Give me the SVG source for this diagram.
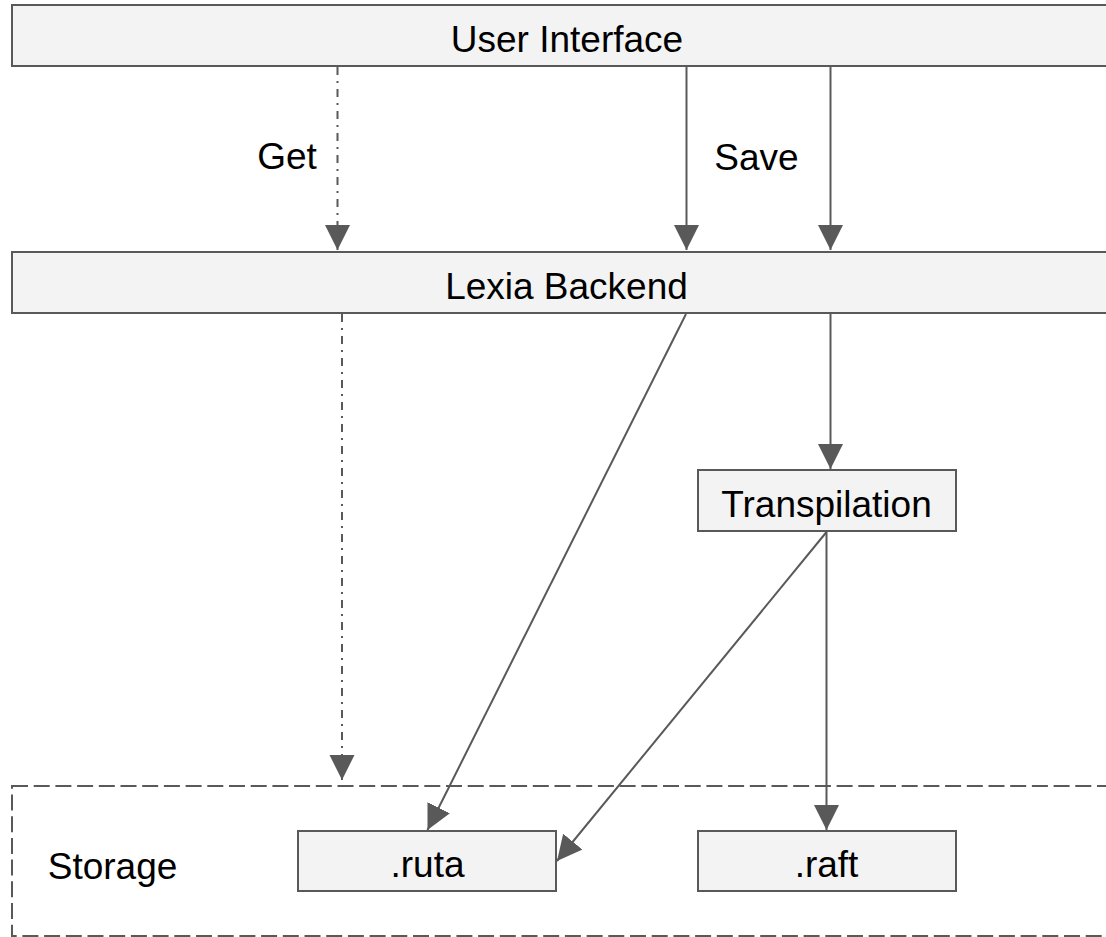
<svg xmlns="http://www.w3.org/2000/svg" width="1106" height="937" viewBox="0 0 1106 937">
  <defs>
    <!-- filled triangular arrowhead, tip sits on the line end -->
    <marker id="arrow" markerUnits="userSpaceOnUse" markerWidth="26" markerHeight="26" refX="25" refY="12.5" orient="auto">
      <path d="M0,0 L25,12.5 L0,25 Z" fill="#595959"/>
    </marker>
    <style>
      .box { fill: #f3f3f3; stroke: #595959; stroke-width: 2; }
      .group { fill: none; stroke: #595959; stroke-width: 2; stroke-dasharray: 16 5.7; }
      .label { font-family: "Liberation Sans", Arial, sans-serif; font-size: 37px; fill: #000000; text-anchor: middle; }
      .edge { fill: none; stroke: #595959; stroke-width: 2; marker-end: url(#arrow); }
      .dashdot { stroke-dasharray: 8 6 2 6; }
    </style>
  </defs>

  <rect width="1106" height="937" fill="#ffffff"/>

  <!-- storage container -->
  <g id="storage">
    <rect class="group" x="12" y="786" width="1110" height="150"/>
    <text class="label" x="112.5" y="879">Storage</text>
  </g>

  <g id="user-interface">
    <rect class="box" x="12" y="5" width="1110" height="61"/>
    <text class="label" x="567" y="52">User Interface</text>
  </g>

  <g id="lexia-backend">
    <rect class="box" x="12" y="252" width="1110" height="61"/>
    <text class="label" x="566.5" y="298.5">Lexia Backend</text>
  </g>

  <g id="transpilation">
    <rect class="box" x="698" y="470" width="258" height="61"/>
    <text class="label" x="826.5" y="516.5">Transpilation</text>
  </g>

  <g id="ruta">
    <rect class="box" x="298" y="831" width="258" height="60"/>
    <text class="label" x="427.5" y="877">.ruta</text>
  </g>

  <g id="raft">
    <rect class="box" x="698" y="831" width="258" height="60"/>
    <text class="label" x="826.5" y="877">.raft</text>
  </g>

  <g id="connectors">
    <!-- Get: UI -> backend, backend -> storage -->
    <line class="edge dashdot" x1="337.5" y1="67" x2="337.5" y2="250"/>
    <line class="edge dashdot" x1="342" y1="314" x2="342" y2="780"/>
    <!-- Save: UI -> backend -->
    <line class="edge" x1="686.5" y1="67" x2="686.5" y2="250"/>
    <line class="edge" x1="830.5" y1="67" x2="830.5" y2="250"/>
    <!-- backend -> transpilation / .ruta -->
    <line class="edge" x1="830.5" y1="314" x2="830.5" y2="469"/>
    <line class="edge" x1="686" y1="314" x2="427.5" y2="830"/>
    <!-- transpilation -> .ruta / .raft -->
    <line class="edge" x1="826.5" y1="532" x2="557" y2="861"/>
    <line class="edge" x1="826.5" y1="532" x2="826.5" y2="830"/>
  </g>

  <g id="edge-labels">
    <text class="label" x="287" y="169">Get</text>
    <text class="label" x="756.5" y="170">Save</text>
  </g>
</svg>
